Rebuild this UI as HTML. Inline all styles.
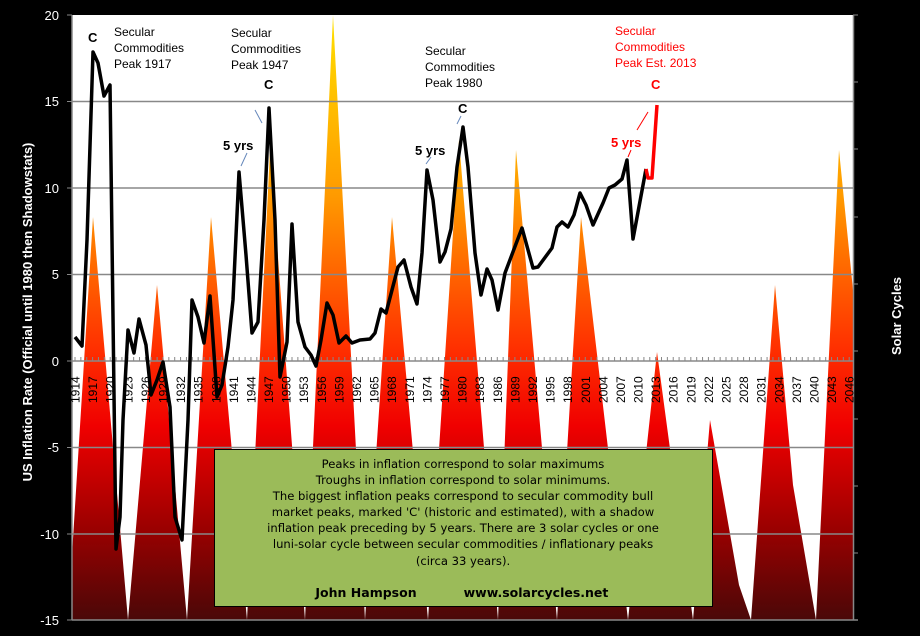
<!DOCTYPE html>
<html><head><meta charset="utf-8"><style>
html,body{margin:0;padding:0;background:#000;}
svg{display:block;font-family:"Liberation Sans",sans-serif;}
</style></head><body>
<svg width="920" height="636" viewBox="0 0 920 636" xmlns="http://www.w3.org/2000/svg">
<defs>
<linearGradient id="g" gradientUnits="userSpaceOnUse" x1="0" y1="15" x2="0" y2="620">
<stop offset="0" stop-color="#ffe000"/>
<stop offset="0.3" stop-color="#ff9a00"/>
<stop offset="0.55" stop-color="#ff3000"/>
<stop offset="0.68" stop-color="#f00000"/>
<stop offset="0.85" stop-color="#9a0000"/>
<stop offset="1" stop-color="#4a0808"/>
</linearGradient>
</defs>
<rect width="920" height="636" fill="#000"/>
<rect x="72" y="15" width="781" height="605" fill="#fff"/>
<polygon fill="url(#g)" points="72,620 72,555 93,217 128,620 157,285 187,620 211,217 247,620 270,150 305,620 333,15 365,620 392,217 428,620 459,140 498,620 516,150 557,620 581,217 628,620 657,352 693,620 710,420 739,585 751,620 775,285 793,485 816,620 839,150 853,290 853,620"/>
<g stroke="#888" stroke-width="1.5">
<line x1="72" y1="101.5" x2="853" y2="101.5"/>
<line x1="72" y1="188" x2="853" y2="188"/>
<line x1="72" y1="274.5" x2="853" y2="274.5"/>
<line x1="72" y1="447.5" x2="853" y2="447.5"/>
<line x1="72" y1="534" x2="853" y2="534"/>
<line x1="72" y1="620" x2="858" y2="620"/>
<line x1="72" y1="361" x2="853" y2="361"/>
<line x1="72" y1="15" x2="72" y2="620"/>
<line x1="853.5" y1="15" x2="853.5" y2="620"/>
</g>
<g stroke="#888" stroke-width="1">
<path d="M67,15H72M67,101.5H72M67,188H72M67,274.5H72M67,361H72M67,447.5H72M67,534H72M67,620H72"/>
<path d="M853,15H858M853,82H858M853,149H858M853,217H858M853,284H858M853,351H858M853,419H858M853,486H858M853,553H858"/>
</g>
<g id="xt" stroke="#888" stroke-width="1"></g>
<g id="xl" font-size="12" fill="#000"></g>
<polyline fill="none" stroke="#000" stroke-width="3.5" stroke-linejoin="round" points="75,337 82,346 87,240 93,52 98,63 104,96 110,85 116,549 120,517 123,420 128,330 134,353 139,319 146,345 151,395 157,380 163,362 170,407 175,517 182,540 188,420 192,300 198,317 204,343 210,296 217,397 222,385 228,347 233,300 239,172 246,255 252,333 258,322 264,220 269,108 275,220 280,377 287,342 292,224 298,322 305,347 311,355 316,366 321,340 327,303 333,315 339,343 346,336 352,343 360,340 370,339 375,333 381,309 386,313 392,290 398,267 404,260 411,287 417,304 422,253 427,170 433,200 440,262 445,252 451,229 457,167 463,127 468,167 475,253 481,295 487,269 492,280 498,310 505,273 522,228 533,268 538,267 552,248 557,227 562,222 568,227 574,215 580,193 586,205 593,225 603,203 609,188 615,185 622,179 627,160 633,239 646,169"/>
<polyline fill="none" stroke="#f00" stroke-width="3.5" stroke-linejoin="round" points="646,169 648,178 652,178 657,105"/>
<g stroke="#6688bb" stroke-width="1">
<line x1="255" y1="110" x2="262" y2="123"/><line x1="247" y1="153" x2="241" y2="166"/>
<line x1="457" y1="124" x2="461" y2="116"/><line x1="431" y1="157" x2="426" y2="164"/>
</g>
<g stroke="#f00" stroke-width="1">
<line x1="637" y1="130" x2="648" y2="112"/><line x1="631" y1="150" x2="628" y2="157"/>
</g>
<g font-size="12" fill="#000">
<text x="114" y="36">Secular</text><text x="114" y="52">Commodities</text><text x="114" y="68">Peak 1917</text>
<text x="231" y="37">Secular</text><text x="231" y="53">Commodities</text><text x="231" y="69">Peak 1947</text>
<text x="425" y="55">Secular</text><text x="425" y="71">Commodities</text><text x="425" y="87">Peak 1980</text>
</g>
<g font-size="12" fill="#f00">
<text x="615" y="35">Secular</text><text x="615" y="51">Commodities</text><text x="615" y="67">Peak Est.  2013</text>
</g>
<g font-size="13" font-weight="bold">
<text x="88" y="42">C</text><text x="264" y="89">C</text><text x="458" y="113">C</text>
<text x="651" y="89" fill="#f00">C</text>
<text x="223" y="150">5 yrs</text><text x="415" y="155">5 yrs</text>
<text x="611" y="147" fill="#f00">5 yrs</text>
</g>
<g font-size="13" fill="#fff" text-anchor="end">
<text x="59" y="20">20</text><text x="59" y="106">15</text><text x="59" y="193">10</text><text x="59" y="279">5</text>
<text x="59" y="366">0</text><text x="59" y="452">-5</text><text x="59" y="539">-10</text><text x="59" y="625">-15</text>
</g>
<text transform="translate(32,312) rotate(-90)" text-anchor="middle" font-size="13" font-weight="bold" fill="#fff">US Inflation Rate (Official until 1980 then Shadowstats)</text>
<text transform="translate(901,316) rotate(-90)" text-anchor="middle" font-size="13" font-weight="bold" fill="#fff">Solar Cycles</text>
<rect x="214.5" y="449.5" width="498" height="157" fill="#9bbb59" stroke="#000" stroke-width="1"/>
<g font-size="11.6" fill="#000" text-anchor="middle" font-family="DejaVu Sans, sans-serif">
<text x="463" y="468">Peaks in inflation  correspond to solar maximums</text>
<text x="463" y="484">Troughs in inflation correspond to solar minimums.</text>
<text x="463" y="500">The biggest  inflation peaks  correspond to secular commodity bull</text>
<text x="463" y="516">market peaks, marked 'C' (historic and estimated), with a shadow</text>
<text x="463" y="532">inflation peak preceding  by 5 years. There are 3 solar cycles or one</text>
<text x="463" y="548">luni-solar  cycle between secular commodities  / inflationary  peaks</text>
<text x="463" y="565">(circa 33 years).</text>
<text x="366" y="597" font-weight="bold" font-size="12.5">John Hampson</text>
<text x="536" y="597" font-weight="bold" font-size="12.5">www.solarcycles.net</text>
</g>
<script>
(function(){var ns="http://www.w3.org/2000/svg";var xt=document.getElementById("xt"),xl=document.getElementById("xl");
for(var y=1914;y<=2046;y++){var x=75+(y-1914)*5.865;var l=document.createElementNS(ns,"line");
l.setAttribute("x1",x);l.setAttribute("x2",x);l.setAttribute("y1",357);l.setAttribute("y2",361);xt.appendChild(l);
if((y-1914)%3==0){var t=document.createElementNS(ns,"text");t.setAttribute("transform","translate("+(x+4.5)+",403) rotate(-90)");t.textContent=y;xl.appendChild(t);}}})();
</script>
</svg>
</body></html>
